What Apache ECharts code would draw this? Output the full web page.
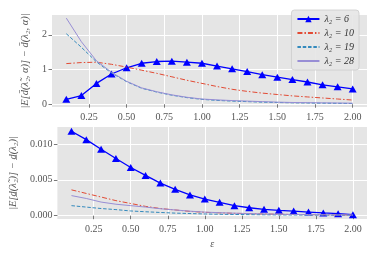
<!DOCTYPE html>
<html><head><meta charset="utf-8">
<script src="https://cdn.jsdelivr.net/npm/echarts@6/dist/echarts.min.js"></script>
<style>html,body{margin:0;padding:0;background:#fff}#c{width:374px;height:255px}</style>
</head><body><div id="c"></div>
<script>
const eps = [0.1,0.2,0.3,0.4,0.5,0.6,0.7,0.8,0.9,1.0,1.1,1.2,1.3,1.4,1.5,1.6,1.7,1.8,1.9,2.0];
const seriesNames = ['λ₂ = 6','λ₂ = 10','λ₂ = 19','λ₂ = 28'];
// top panel
const top6  = [0.14,0.25,0.60,0.87,1.05,1.18,1.23,1.24,1.21,1.18,1.10,1.02,0.94,0.85,0.78,0.71,0.64,0.56,0.50,0.44];
const top10 = [1.17,1.20,1.21,1.15,1.07,0.98,0.89,0.79,0.69,0.60,0.51,0.43,0.37,0.32,0.28,0.24,0.21,0.18,0.15,0.12];
const top19 = [2.03,1.64,1.22,0.90,0.65,0.46,0.35,0.26,0.19,0.14,0.11,0.09,0.075,0.06,0.05,0.04,0.035,0.03,0.025,0.02];
const top28 = [2.48,1.80,1.25,0.92,0.66,0.47,0.36,0.27,0.20,0.15,0.125,0.105,0.09,0.075,0.06,0.05,0.045,0.04,0.035,0.03];
// bottom panel
const bot6  = [0.01176,0.0106,0.00926,0.00797,0.00672,0.00561,0.00454,0.00367,0.0029,0.00232,0.00186,0.00139,0.00111,0.00089,0.00075,0.00065,0.00051,0.00038,0.00028,0.00014];
const bot10 = [0.0036,0.0031,0.0026,0.0021,0.0017,0.0013,0.0010,0.0008,0.0006,0.00047,0.0004,0.00033,0.00028,0.00024,0.0002,0.00017,0.00015,0.00013,0.00011,0.0001];
const bot19 = [0.0014,0.0012,0.0010,0.00085,0.00066,0.00055,0.00045,0.00036,0.0003,0.00024,0.0002,0.00017,0.00015,0.00013,0.00011,0.0001,0.00009,0.00008,0.00007,0.00006];
const bot28 = [0.0028,0.0024,0.0019,0.0016,0.0014,0.0012,0.00097,0.0008,0.00063,0.0005,0.00042,0.00035,0.0003,0.00025,0.00021,0.00018,0.00015,0.00013,0.00011,0.0001];
const xTicks = [0.25,0.5,0.75,1.0,1.25,1.5,1.75,2.0];
const yTicksTop = [0,1,2];
const yTicksBot = [0,0.005,0.01];

const FONT = 'Liberation Serif';
const TICKC = '#555555';
const colors = ['#0000FF','#E24A33','#348ABD','#988ED5'];
const styles = [
  {width:1.3, type:'solid'},
  {width:1.0, type:[5,2,1.5,2]},
  {width:1.0, type:[3.5,1.8]},
  {width:1.0, type:'solid'}
];
function mk(arr){ return eps.map((e,i)=>[e,arr[i]]); }
function xAxis(gi){
  return {type:'value', gridIndex:gi, min:0.005, max:2.095,
    axisLine:{show:false},
    axisTick:{show:true, customValues:xTicks, length:3.5, lineStyle:{color:TICKC,width:0.8}},
    axisLabel:{customValues:xTicks, color:TICKC, fontFamily:FONT, fontSize:10, margin:5,
      formatter:v=>v.toFixed(2)},
    splitLine:{show:true, lineStyle:{color:'#ffffff', width:1}}};
}
function yAxis(gi, min, max, ticks, dec, name, gap){
  return {type:'value', gridIndex:gi, min:min, max:max,
    axisLine:{show:false},
    axisTick:{show:true, customValues:ticks, length:3.5, lineStyle:{color:TICKC,width:0.8}},
    axisLabel:{customValues:ticks, color:TICKC, fontFamily:FONT, fontSize:10, margin:5,
      formatter:v=>v.toFixed(dec)},
    splitLine:{show:true, lineStyle:{color:'#ffffff', width:1}},
    name:name, nameLocation:'middle', nameGap:gap, nameRotate:90,
    nameTextStyle:{color:'#555555', fontFamily:FONT, fontSize:10.5, fontStyle:'italic'}};
}
const topData = [top6, top10, top19, top28];
const botData = [bot6, bot10, bot19, bot28];
const series = [];
[0,1].forEach(gi=>{
  const d = gi===0 ? topData : botData;
  d.forEach((arr,k)=>{
    series.push({name:seriesNames[k], type:'line', xAxisIndex:gi, yAxisIndex:gi,
      data:mk(arr), color:colors[k],
      showSymbol:k===0, symbol:k===0?'triangle':'none', symbolSize:[8,7],
      itemStyle:{color:colors[k]},
      lineStyle:{color:colors[k], width:styles[k].width, type:styles[k].type},
      animation:false, silent:true, z:2+k});
  });
});
const legendData = seriesNames.map((n,k)=> k===0 ? {name:n} :
  {name:n, itemStyle:{color:'rgba(0,0,0,0)', borderWidth:0, opacity:0}});
const chart = echarts.init(document.getElementById('c'), null, {renderer:'canvas'});
chart.setOption({
  backgroundColor:'#ffffff',
  animation:false,
  grid:[
    {left:52, right:7, top:15, height:92, backgroundColor:'#E5E5E5', show:true, borderWidth:0},
    {left:52, right:7, top:127, height:92, backgroundColor:'#E5E5E5', show:true, borderWidth:0}
  ],
  xAxis:[xAxis(0), Object.assign(xAxis(1), {name:'ε', nameLocation:'middle', nameGap:20,
    nameTextStyle:{color:'#555555', fontFamily:FONT, fontSize:10, fontStyle:'italic'}})],
  yAxis:[
    yAxis(0, -0.08, 2.57, yTicksTop, 0, '|E[d̄(λ̃₂, α)] − d̄(λ₂, α)|', 12),
    yAxis(1, -0.00046, 0.01236, yTicksBot, 3, '|E[d̲(λ̃₂)] − d̲(λ₂)|', 25)
  ],
  legend:{
    data:legendData, orient:'vertical', right:15, top:10,
    itemWidth:22, itemHeight:8, itemGap:4, padding:[4,5,4,5],
    backgroundColor:'rgba(229,229,229,0.9)', borderColor:'#cccccc', borderWidth:0.8, borderRadius:3,
    textStyle:{color:'#333333', fontFamily:FONT, fontSize:10, fontStyle:'italic'}
  },
  series:series
});
</script></body></html>
